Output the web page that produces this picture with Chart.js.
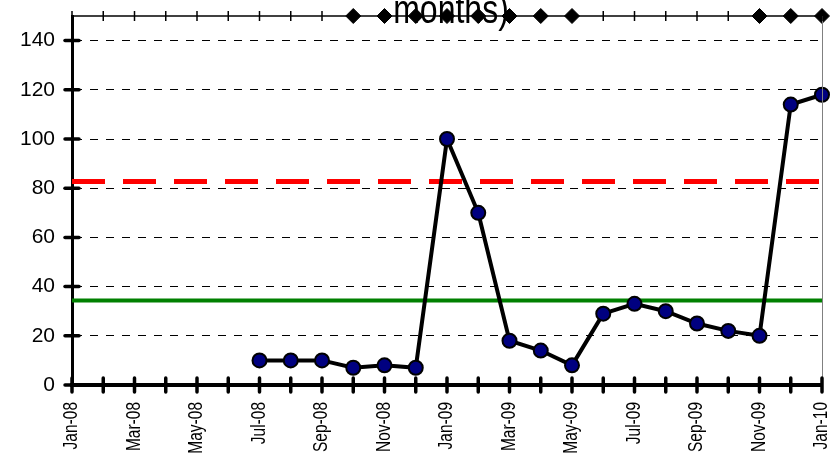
<!DOCTYPE html>
<html>
<head>
<meta charset="utf-8">
<script src="https://cdn.jsdelivr.net/npm/chart.js@4.4.0/dist/chart.umd.min.js"></script>
<style>
  html, body { margin: 0; padding: 0; background: #fff; }
  #wrap { width: 834px; height: 453px; }
</style>
</head>
<body>
<div id="wrap"><canvas id="chart"></canvas></div>
<script>
const months = ['Jan-08', 'Feb-08', 'Mar-08', 'Apr-08', 'May-08', 'Jun-08', 'Jul-08', 'Aug-08', 'Sep-08',
    'Oct-08', 'Nov-08', 'Dec-08', 'Jan-09', 'Feb-09', 'Mar-09', 'Apr-09', 'May-09', 'Jun-09', 'Jul-09',
    'Aug-09', 'Sep-09', 'Oct-09', 'Nov-09', 'Dec-09', 'Jan-10'];
const values = [null, null, null, null, null, null, 10, 10, 10, 7, 8, 7, 100, 70, 18, 14, 8, 29, 33, 30, 25, 22, 20, 114, 118];
const flags = [null, null, null, null, null, null, null, null, null, 150, 150, 150, 150, 150, 150, 150, 150,
    null, null, null, null, null, 150, 150, 150];
const upperLimit = 82.7;
const centerLine = 34.3;
const yTicks = [0, 20, 40, 60, 80, 100, 120, 140];
const titleText = 'months)';

const font = '"Liberation Sans", Arial, sans-serif';

// the reference text looks squeezed, so title and month labels get stretched a bit
const decor = {
    id: 'decor',
    beforeDraw(chart) {
        const c = chart.ctx, a = chart.chartArea;
        c.save();
        c.fillStyle = '#000';
        c.font = '32px ' + font;
        c.textAlign = 'center';
        c.textBaseline = 'alphabetic';
        c.translate((a.left + a.right) / 2 + 4, 23);
        c.scale(1, 1.25);
        c.fillText(titleText, 0, 0);
        c.restore();
    },
    afterDatasetsDraw(chart) {
        const c = chart.ctx, a = chart.chartArea;
        const x = chart.scales.x, y = chart.scales.y;
        c.save();
        c.strokeStyle = '#808080';
        c.lineWidth = 1;
        c.beginPath();
        c.moveTo(a.right + 0.5, a.top);
        c.lineTo(a.right + 0.5, a.bottom);
        c.stroke();
        c.strokeStyle = '#000';
        c.lineWidth = 1.5;
        c.beginPath();
        c.moveTo(a.left, a.top);
        c.lineTo(a.right, a.top);
        c.stroke();
        months.forEach((m, i) => {
            const px = x.getPixelForValue(i);
            c.beginPath();
            c.moveTo(px, a.top - 5);
            c.lineTo(px, a.top + 5);
            c.stroke();
        });
        c.lineWidth = 3.5;
        c.lineCap = 'round';
        months.forEach((m, i) => {
            const px = x.getPixelForValue(i);
            c.beginPath();
            c.moveTo(px, a.bottom - 7);
            c.lineTo(px, a.bottom + 7);
            c.stroke();
        });
        yTicks.forEach(v => {
            const py = y.getPixelForValue(v);
            c.beginPath();
            c.moveTo(a.left - 7, py);
            c.lineTo(a.left + 7, py);
            c.stroke();
        });
        // month labels, every second one
        c.fillStyle = '#000';
        c.font = '15.5px ' + font;
        c.textAlign = 'right';
        c.textBaseline = 'middle';
        months.forEach((m, i) => {
            if (i % 2) return;
            c.save();
            c.translate(x.getPixelForValue(i), a.bottom + 17);
            c.rotate(-Math.PI / 2);
            c.scale(1, 1.25);
            c.fillText(m, 0, 0);
            c.restore();
        });
        c.restore();
    }
};

function noPad(s) {
    s.paddingTop = 0;
    s.paddingBottom = 0;
    s.paddingLeft = 0;
    s.paddingRight = 0;
}

const ctx = document.getElementById('chart').getContext('2d');
new Chart(ctx, {
    type: 'line',
    data: {
        labels: months,
        datasets: [{
            label: 'flags',
            data: flags,
            showLine: false,
            pointStyle: 'rectRot',
            pointRadius: 7.5,
            pointBackgroundColor: '#000',
            pointBorderColor: '#000',
            pointBorderWidth: 1,
            clip: false,
            order: 0
        }, {
            label: 'value',
            data: values,
            borderColor: '#000',
            borderWidth: 4,
            pointRadius: 7,
            pointBorderWidth: 2,
            pointBackgroundColor: '#000080',
            pointBorderColor: '#000',
            tension: 0,
            clip: false,
            order: 1
        }, {
            label: 'ucl',
            data: months.map(() => upperLimit),
            borderColor: '#ff0000',
            borderWidth: 5,
            borderDash: [33, 18],
            borderCapStyle: 'butt',
            pointRadius: 0,
            order: 2
        }, {
            label: 'mean',
            data: months.map(() => centerLine),
            borderColor: '#008000',
            borderWidth: 4,
            pointRadius: 0,
            order: 3
        }]
    },
    options: {
        responsive: true,
        maintainAspectRatio: false,
        animation: false,
        events: [],
        layout: { padding: { top: 16, right: 12, left: 0, bottom: 0 } },
        plugins: {
            legend: { display: false },
            title: { display: false },
            tooltip: { enabled: false }
        },
        scales: {
            x: {
                type: 'category',
                offset: false,
                grid: { display: false },
                border: { display: true, color: '#000', width: 4 },
                ticks: { display: false },
                afterFit: s => { s.height = 68; noPad(s); }
            },
            y: {
                min: 0,
                max: 150,
                afterBuildTicks: s => { s.ticks = yTicks.map(v => ({ value: v })); },
                grid: {
                    color: (c) => c.tick && c.tick.value === 0 ? 'rgba(0,0,0,0)' : '#000',
                    lineWidth: 1,
                    drawTicks: false
                },
                border: { display: true, color: '#000', width: 3, dash: [8, 8] },
                ticks: {
                    padding: 17,
                    color: '#000',
                    font: { family: font, size: 21 }
                },
                afterFit: s => { s.width = 72; noPad(s); }
            }
        }
    },
    plugins: [decor]
});
</script>
</body>
</html>
